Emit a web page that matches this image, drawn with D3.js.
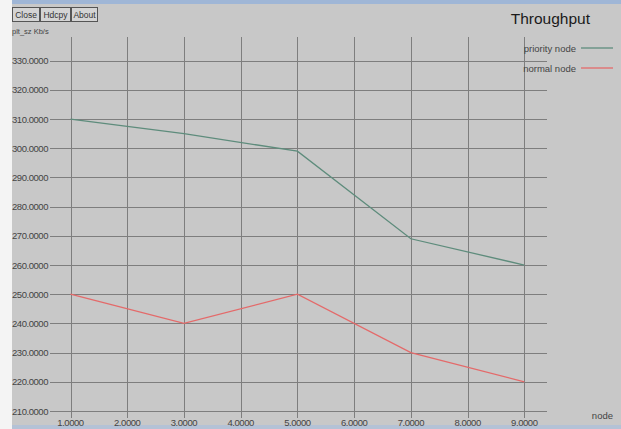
<!DOCTYPE html>
<html><head><meta charset="utf-8">
<script src="https://cdn.jsdelivr.net/npm/d3@7/dist/d3.min.js"></script>
<style>html,body{margin:0;padding:0;background:#c8c8c8;overflow:hidden}</style>
</head><body>
<script>
const nodes = [1, 3, 5, 7, 9];
const priorityNode = [310, 305, 299, 269, 260];
const normalNode = [250, 240, 250, 230, 220];
const xTicks = [1, 2, 3, 4, 5, 6, 7, 8, 9];
const yTicks = [210, 220, 230, 240, 250, 260, 270, 280, 290, 300, 310, 320, 330];
const seriesNames = ["priority node", "normal node"];
const seriesColors = ["#5e8c7c", "#e46a6a"];

const W = 621, H = 429;
const svg = d3.select("body").append("svg").attr("width", W).attr("height", H)
  .style("font-family", "'Liberation Sans', Arial, sans-serif");

svg.append("rect").attr("width", W).attr("height", H).attr("fill", "#c8c8c8");
svg.append("rect").attr("x", 0).attr("y", 0).attr("width", 12).attr("height", H).attr("fill", "#f4f4f4");
svg.append("rect").attr("x", 12).attr("y", 0).attr("width", W - 12).attr("height", 4).attr("fill", "#9fb6d6");
svg.append("rect").attr("x", 12).attr("y", 425).attr("width", W - 12).attr("height", 4).attr("fill", "#b4c2d6");

const x = d3.scaleLinear().domain([1, 9]).range([70.5, 524.3]);
const y = d3.scaleLinear().domain([210, 330]).range([411, 60.7]);

// buttons
const buttons = [["Close", 12, 27], ["Hdcpy", 40, 30], ["About", 71, 26]];
buttons.forEach(([t, bx, bw]) => {
  svg.append("rect").attr("x", bx + 0.5).attr("y", 7.5).attr("width", bw).attr("height", 14)
    .attr("fill", "#d4d4d4").attr("stroke", "#555").attr("stroke-width", 1);
  svg.append("text").attr("x", bx + bw / 2 + 0.5).attr("y", 18).attr("text-anchor", "middle")
    .attr("font-size", 8.5).attr("fill", "#333").text(t);
});
svg.append("text").attr("x", 12).attr("y", 34).attr("font-size", 7.5).attr("fill", "#444").text("plt_sz Kb/s");

// grid
const g = svg.append("g");
g.selectAll("line.h").data(yTicks).join("line")
  .attr("x1", 50).attr("x2", 547)
  .attr("y1", d => Math.round(y(d)) + 0.5).attr("y2", d => Math.round(y(d)) + 0.5)
  .attr("stroke", "#7e7e7e").attr("stroke-width", 1);
g.selectAll("line.v").data(xTicks).join("line")
  .attr("y1", 37).attr("y2", 418)
  .attr("x1", d => Math.round(x(d)) + 0.5).attr("x2", d => Math.round(x(d)) + 0.5)
  .attr("stroke", "#7e7e7e").attr("stroke-width", 1);

// tick labels
svg.selectAll("text.yl").data(yTicks).join("text")
  .attr("x", 48).attr("y", d => y(d) + 3.5).attr("text-anchor", "end")
  .attr("font-size", 9.5).attr("fill", "#444").attr("letter-spacing", -0.45)
  .text(d => d3.format(".4f")(d));
svg.selectAll("text.xl").data(xTicks).join("text")
  .attr("x", d => x(d)).attr("y", 426).attr("text-anchor", "middle")
  .attr("font-size", 9.5).attr("fill", "#444").attr("letter-spacing", -0.45)
  .text(d => d3.format(".4f")(d));
svg.append("text").attr("x", 613).attr("y", 419).attr("text-anchor", "end")
  .attr("font-size", 9.5).attr("fill", "#444").text("node");

// title
svg.append("text").attr("x", 590).attr("y", 24).attr("text-anchor", "end")
  .attr("font-size", 15.5).attr("fill", "#1a1a1a").text("Throughput");

// lines
const line = d3.line().x((d, i) => x(nodes[i])).y(d => y(d));
[priorityNode, normalNode].forEach((s, k) => {
  svg.append("path").datum(s).attr("d", line).attr("fill", "none")
    .attr("stroke", seriesColors[k]).attr("stroke-width", 1.3);
});

// legend
seriesNames.forEach((n, k) => {
  const ly = 48 + k * 20;
  svg.append("text").attr("x", 576).attr("y", ly + 3.5).attr("text-anchor", "end")
    .attr("font-size", 9.5).attr("fill", "#444").text(n);
  svg.append("line").attr("x1", 581).attr("x2", 613).attr("y1", ly).attr("y2", ly)
    .attr("stroke", seriesColors[k]).attr("stroke-width", 1.3);
});
</script>
</body></html>
